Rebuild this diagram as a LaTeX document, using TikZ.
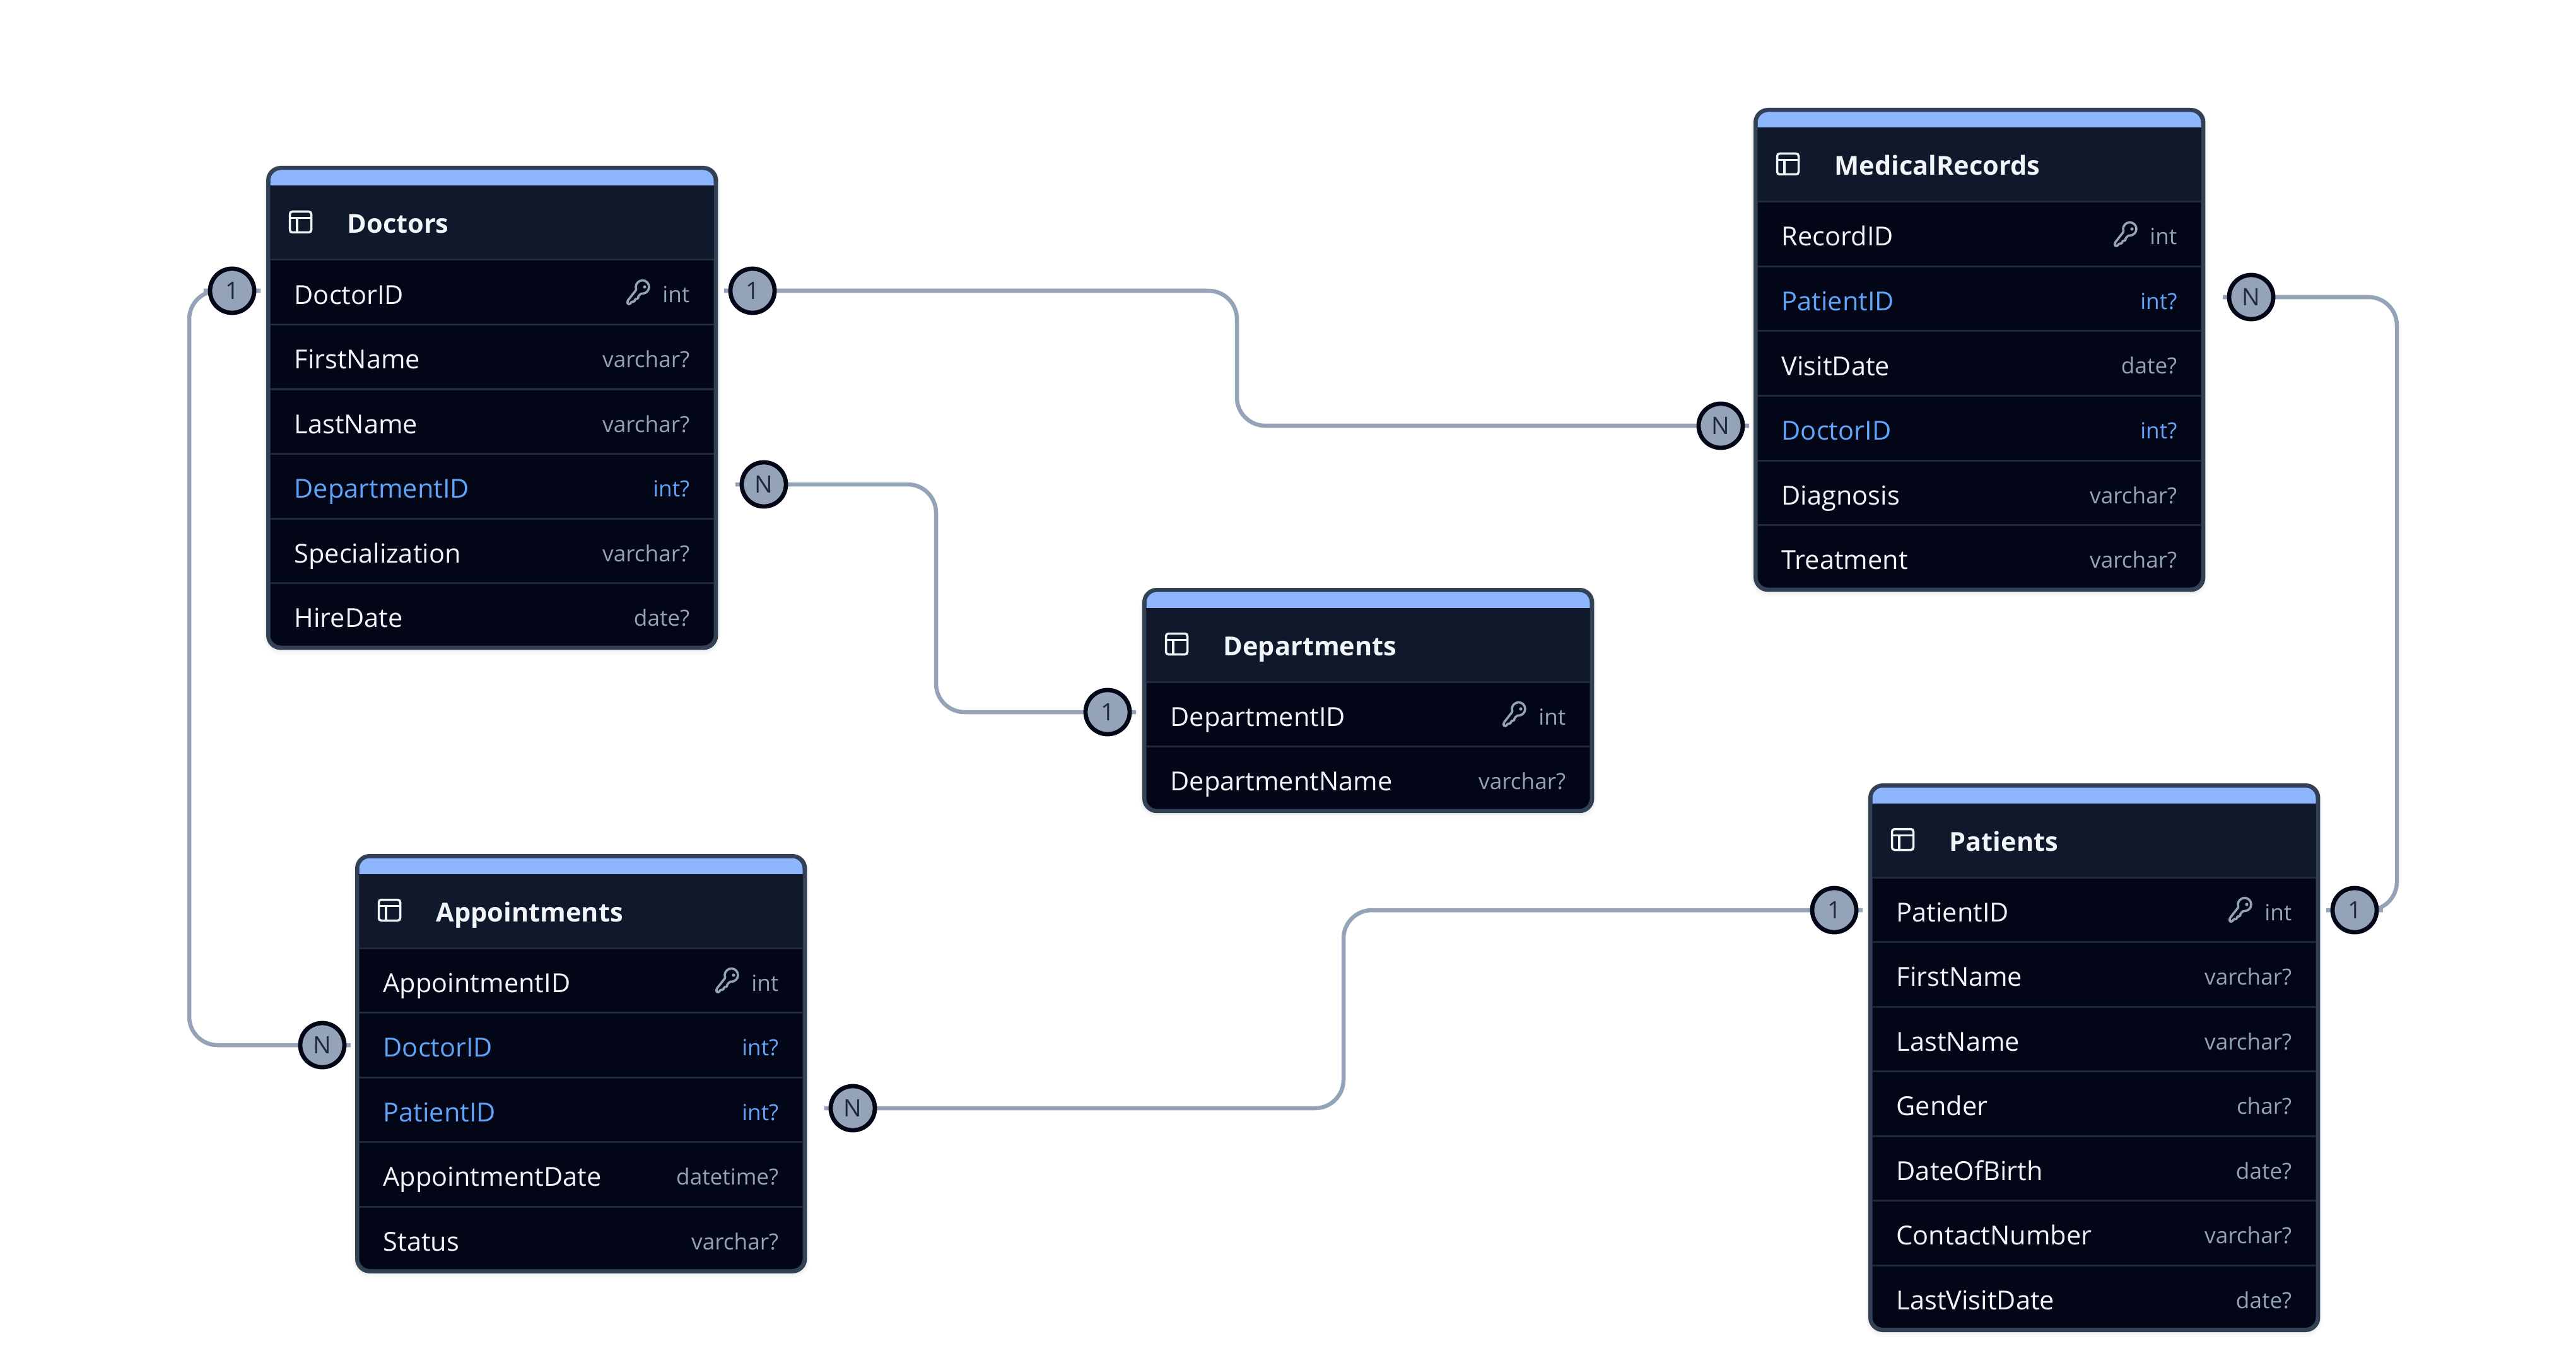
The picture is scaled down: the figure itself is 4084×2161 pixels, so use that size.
\documentclass[tikz,border=0pt]{standalone}
\usepackage{fontspec}
\setmainfont{Open Sans}
\pgfdeclarelayer{bg}
\pgfsetlayers{bg,main}
\definecolor{edgeC}{HTML}{94A3B8}
\definecolor{ringC}{HTML}{020617}
\definecolor{cardT}{HTML}{1E293B}
\definecolor{frameC}{HTML}{334155}
\definecolor{bandC}{HTML}{8DB6FF}
\definecolor{headC}{HTML}{10192B}
\definecolor{rowC}{HTML}{020617}
\definecolor{sepC}{HTML}{1E293B}
\definecolor{nameC}{HTML}{F1F5F9}
\definecolor{fkC}{HTML}{60A5FA}
\tikzset{
  x=0.01cm,y=-0.01cm,
  conn/.style={draw=edgeC,line width=0.065cm,rounded corners=0.45cm},
  card/.style={circle,draw=ringC,fill=edgeC,line width=0.068cm,minimum size=0.70cm,inner sep=0pt,text=cardT,font=\fontsize{10.8}{12}\selectfont},
  tablebox/.style={fill=frameC,rounded corners=0.23cm,minimum width=7.16cm,anchor=north west,inner sep=0pt,outer sep=0pt},
  fieldname/.style={anchor=base west,inner sep=0pt,text=nameC,font=\fontsize{11.8}{14}\selectfont},
  fieldtype/.style={anchor=base east,inner sep=0pt,text=edgeC,font=\fontsize{10}{12}\selectfont},
  tabletitle/.style={anchor=base west,inner sep=0pt,text=nameC,font=\bfseries\fontsize{11.8}{14}\selectfont},
  iconline/.style={draw=nameC,line width=0.035cm},
  keyline/.style={draw=edgeC,line width=0.036cm,rounded corners=0.012cm,line join=round},
}
% name, x, top, rows, title
\newcommand{\ertable}[5]{%
  \pgfmathsetmacro{\erh}{149+#4*102.5+3}
  \pgfmathsetmacro{\ercm}{\erh/100}
  \node[tablebox,minimum height=\ercm cm] (#1) at (#2,#3) {};
  \begin{scope}[shift={(#1.north west)}]
    \begin{pgfonlayer}{bg}
      \fill[black,opacity=0.02,rounded corners=0.26cm] (-4,0) rectangle (720,\erh+8);
      \fill[black,opacity=0.03,rounded corners=0.24cm] (-2,0) rectangle (718,\erh+4);
    \end{pgfonlayer}
    \begin{scope}
      \clip[rounded corners=0.17cm] (6.5,6.5) rectangle (709.5,\erh-6.5);
      \fill[rowC] (0,0) rectangle (716,\erh);
      \fill[headC] (0,0) rectangle (716,149);
      \fill[bandC] (0,0) rectangle (716,31.5);
    \end{scope}
    \draw[sepC,line width=0.03cm] (6.5,149) -- (709.5,149);
    \draw[iconline,rounded corners=0.04cm] (37.5,72.5) rectangle (71.5,105.5);
    \draw[iconline] (37.5,82.5) -- (71.5,82.5) (49,82.5) -- (49,105.5);
    \node[tabletitle] (#1-title) at (128,107) {#5};
  \end{scope}}
% table, index, name, type, kind (0 plain, 1 key, 2 foreign)
\newcommand{\errow}[5]{%
  \begin{scope}[shift={(#1.north west)}]
    \pgfmathsetmacro{\ertop}{149+(#2-1)*102.5}
    \pgfmathsetmacro{\erbase}{\ertop+70}
    \pgfmathsetmacro{\ertbase}{\ertop+68}
    \ifnum#2>1 \draw[sepC,line width=0.03cm] (6.5,\ertop) -- (709.5,\ertop);\fi
    \ifnum#5=2
      \node[fieldname,text=fkC] (#1-#2-name) at (44,\erbase) {#3};
      \node[fieldtype,text=fkC] (#1-#2-type) at (672,\ertbase) {#4};
    \else
      \node[fieldname] (#1-#2-name) at (44,\erbase) {#3};
      \node[fieldtype] (#1-#2-type) at (672,\ertbase) {#4};
    \fi
    \ifnum#5=1
      \begin{scope}[shift={(553,\ertop+24)}]
        \draw[keyline] (34,23) arc[start angle=157,end angle=460,radius=10.4]
          -- (37,33.5) -- (36.5,37.5) -- (32,38) -- (31,42) -- (26,42.5) -- (24,46) -- (20,46) -- (20,41) -- cycle;
        \fill[edgeC] (47,19) circle[radius=2.6];
      \end{scope}
    \fi
  \end{scope}}
\begin{document}
\begin{tikzpicture}
\useasboundingbox (0,0) rectangle (4084,2161);
\begin{pgfonlayer}{bg}
\fill[white] (0,0) rectangle (4084,2161);
\end{pgfonlayer}

\ertable{Doctors}{422}{263}{6}{Doctors}
\errow{Doctors}{1}{DoctorID}{int}{1}
\errow{Doctors}{2}{FirstName}{varchar?}{0}
\errow{Doctors}{3}{LastName}{varchar?}{0}
\errow{Doctors}{4}{DepartmentID}{int?}{2}
\errow{Doctors}{5}{Specialization}{varchar?}{0}
\errow{Doctors}{6}{HireDate}{date?}{0}

\ertable{MedicalRecords}{2780}{171}{6}{MedicalRecords}
\errow{MedicalRecords}{1}{RecordID}{int}{1}
\errow{MedicalRecords}{2}{PatientID}{int?}{2}
\errow{MedicalRecords}{3}{VisitDate}{date?}{0}
\errow{MedicalRecords}{4}{DoctorID}{int?}{2}
\errow{MedicalRecords}{5}{Diagnosis}{varchar?}{0}
\errow{MedicalRecords}{6}{Treatment}{varchar?}{0}

\ertable{Departments}{1811}{932}{2}{Departments}
\errow{Departments}{1}{DepartmentID}{int}{1}
\errow{Departments}{2}{DepartmentName}{varchar?}{0}

\ertable{Appointments}{563}{1354}{5}{Appointments}
\errow{Appointments}{1}{AppointmentID}{int}{1}
\errow{Appointments}{2}{DoctorID}{int?}{2}
\errow{Appointments}{3}{PatientID}{int?}{2}
\errow{Appointments}{4}{AppointmentDate}{datetime?}{0}
\errow{Appointments}{5}{Status}{varchar?}{0}

\ertable{Patients}{2962}{1242}{7}{Patients}
\errow{Patients}{1}{PatientID}{int}{1}
\errow{Patients}{2}{FirstName}{varchar?}{0}
\errow{Patients}{3}{LastName}{varchar?}{0}
\errow{Patients}{4}{Gender}{char?}{0}
\errow{Patients}{5}{DateOfBirth}{date?}{0}
\errow{Patients}{6}{ContactNumber}{varchar?}{0}
\errow{Patients}{7}{LastVisitDate}{date?}{0}

% cardinality badges
\node[card] (cDocL) at (368,461) {1};
\node[card] (cApptDoc) at (511,1657) {N};
\node[card] (cDocR) at (1193,461) {1};
\node[card] (cMedDoc) at (2728,675) {N};
\node[card] (cDocDept) at (1211,768) {N};
\node[card] (cDept) at (1756,1129) {1};
\node[card] (cApptPat) at (1352,1757) {N};
\node[card] (cPatL) at (2908,1443) {1};
\node[card] (cMedPat) at (3569,471) {N};
\node[card] (cPatR) at (3733,1443) {1};

% connector free ends
\coordinate (sDocL) at (412,461);
\coordinate (sApptDoc) at (553,1657);
\coordinate (sDocR) at (1148,461);
\coordinate (sMedDoc) at (2770,675);
\coordinate (sDocDept) at (1166,768);
\coordinate (sDept) at (1801,1129);
\coordinate (sApptPat) at (1307,1757);
\coordinate (sPatL) at (2952,1443);
\coordinate (sMedPat) at (3524,471);
\coordinate (sPatR) at (3688,1443);
\coordinate (mA) at (300,0);
\coordinate (mB) at (1961,0);
\coordinate (mC) at (1484,0);
\coordinate (mD) at (2130,0);
\coordinate (mE) at (3800,0);

\begin{pgfonlayer}{bg}
\draw[conn] (sDocL) -- (cDocL.center) -- (mA |- cDocL) -- (mA |- cApptDoc) -- (cApptDoc.center) -- (sApptDoc);
\draw[conn] (sDocR) -- (cDocR.center) -- (mB |- cDocR) -- (mB |- cMedDoc) -- (cMedDoc.center) -- (sMedDoc);
\draw[conn] (sDocDept) -- (cDocDept.center) -- (mC |- cDocDept) -- (mC |- cDept) -- (cDept.center) -- (sDept);
\draw[conn] (sApptPat) -- (cApptPat.center) -- (mD |- cApptPat) -- (mD |- cPatL) -- (cPatL.center) -- (sPatL);
\draw[conn] (sMedPat) -- (cMedPat.center) -- (mE |- cMedPat) -- (mE |- cPatR) -- (cPatR.center) -- (sPatR);
\end{pgfonlayer}
\end{tikzpicture}
\end{document}
